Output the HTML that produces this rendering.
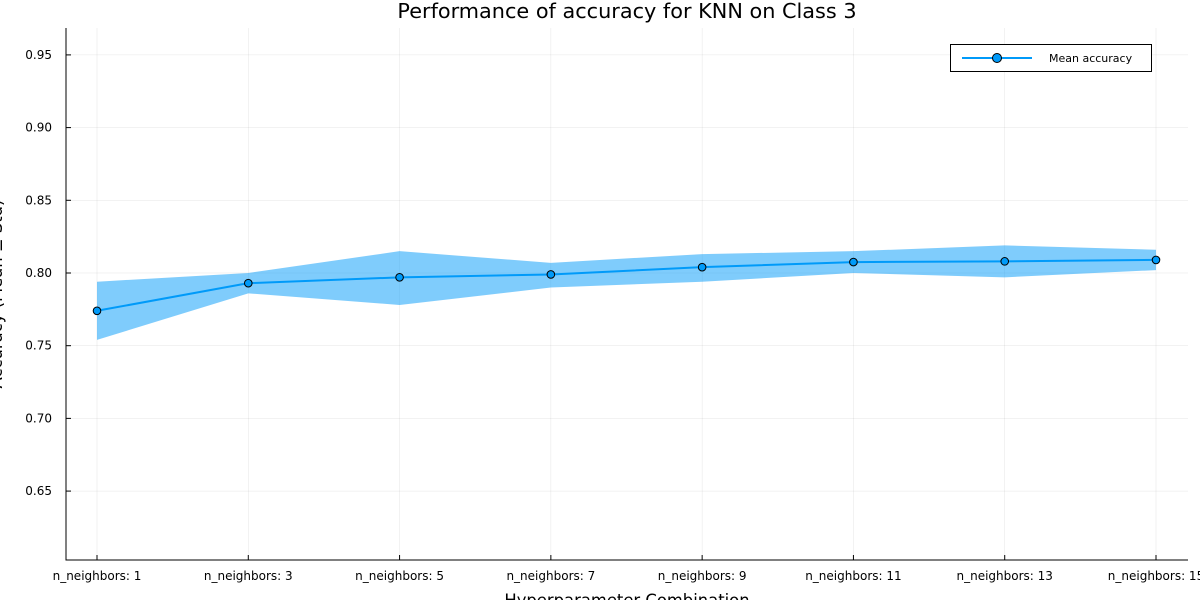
<!DOCTYPE html>
<html><head><meta charset="utf-8"><style>
html,body{margin:0;padding:0;background:#fff;}
svg{display:block;font-family:"DejaVu Sans","Liberation Sans",sans-serif;}
</style></head><body>
<svg id="chart" width="1200" height="600" viewBox="0 0 1200 600"></svg>
<script>
const categories=["n_neighbors: 1","n_neighbors: 3","n_neighbors: 5","n_neighbors: 7","n_neighbors: 9","n_neighbors: 11","n_neighbors: 13","n_neighbors: 15"];
const meanValues=[0.774,0.793,0.797,0.799,0.804,0.8075,0.808,0.809];
const upperValues=[0.794,0.800,0.815,0.807,0.813,0.815,0.819,0.816];
const lowerValues=[0.754,0.786,0.778,0.790,0.794,0.800,0.797,0.802];
const yTicks=[0.65,0.70,0.75,0.80,0.85,0.90,0.95];

const NS="http://www.w3.org/2000/svg";
const svg=document.getElementById('chart');
const L=66,R=1188,T=28,B=560;
const yMin=0.6026,yMax=0.9685;
const x0=97,x1=1156;
function xs(i){return x0+(x1-x0)*i/(categories.length-1);}
function ys(v){return B-(v-yMin)/(yMax-yMin)*(B-T);}
function mk(tag,attrs,parent){const e=document.createElementNS(NS,tag);for(const k in attrs)e.setAttribute(k,attrs[k]);(parent||svg).appendChild(e);return e;}

yTicks.forEach(v=>{
  const g=mk('line',{x1:L,x2:R,y1:ys(v),y2:ys(v),stroke:'#000','stroke-opacity':0.1,'stroke-width':0.5});
  
  
});
categories.forEach((c,i)=>{
  const g=mk('line',{x1:xs(i),x2:xs(i),y1:T,y2:B,stroke:'#000','stroke-opacity':0.1,'stroke-width':0.5});
  
  
});
let pts=categories.map((c,i)=>xs(i)+','+ys(upperValues[i]));
for(let i=categories.length-1;i>=0;i--)pts.push(xs(i)+','+ys(lowerValues[i]));
const band=mk('polygon',{points:pts.join(' '),fill:'#009af9','fill-opacity':0.5});


const line=mk('polyline',{points:categories.map((c,i)=>xs(i)+','+ys(meanValues[i])).join(' '),fill:'none',stroke:'#009af9','stroke-width':2});


categories.forEach((c,i)=>{
  const p=mk('circle',{cx:xs(i),cy:ys(meanValues[i]),r:3.8,fill:'#009af9',stroke:'#000','stroke-width':1});
  
  
});
const ax=mk('path',{d:`M${L},${T}V${B}H${R}`,fill:'none',stroke:'#000','stroke-width':1});


yTicks.forEach(v=>{
  const t=mk('line',{x1:L,x2:L+5,y1:ys(v),y2:ys(v),stroke:'#000'});
  
  
  const l=mk('text',{x:L-14,y:ys(v)+4,'text-anchor':'end','font-size':12});
  l.textContent=v.toFixed(2);
  
  
});
categories.forEach((c,i)=>{
  const t=mk('line',{x1:xs(i),x2:xs(i),y1:B,y2:B-5,stroke:'#000'});
  
  
  const l=mk('text',{x:xs(i),y:B+20,'text-anchor':'middle','font-size':12});
  l.textContent=c;
  
  
});
</script>
<svg width="1200" height="600" style="position:absolute;left:0;top:0">
<text x="627" y="18" text-anchor="middle" font-size="20.8">Performance of accuracy for KNN on Class 3</text>
<text x="627" y="606" text-anchor="middle" font-size="16.4">Hyperparameter Combination</text>
<text transform="translate(2,294) rotate(-90)" text-anchor="middle" font-size="16.4">Accuracy (Mean ± Std)</text>
<g>
<rect x="950.5" y="44.5" width="201" height="27" fill="#fff" stroke="#000" stroke-width="1"/>
<line x1="962" x2="1032" y1="58" y2="58" stroke="#009af9" stroke-width="2"/>
<circle cx="997" cy="58" r="4.5" fill="#009af9" stroke="#000"/>
<text x="1049" y="62" font-size="11">Mean accuracy</text>
</g>
</svg>
</body></html>
